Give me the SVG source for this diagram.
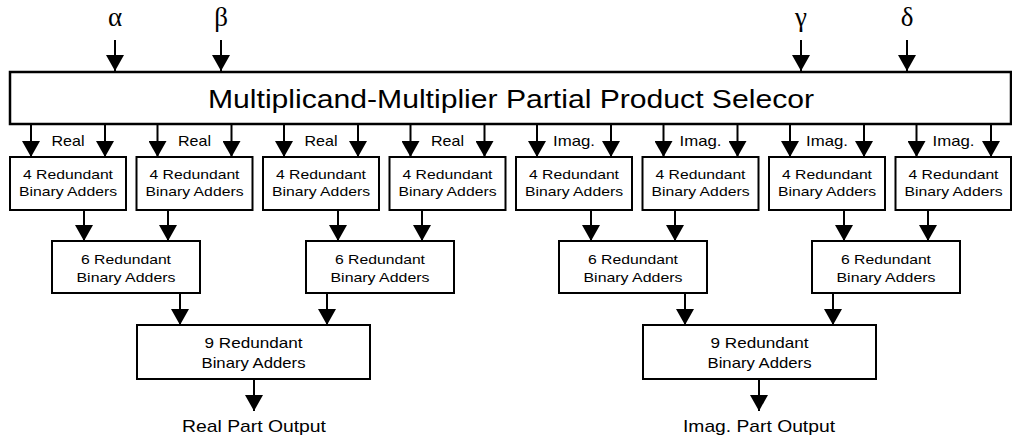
<svg xmlns="http://www.w3.org/2000/svg" width="1012" height="441" viewBox="0 0 1012 441">
<style>
.box{fill:#fff;stroke:#000;stroke-width:2}
.main{fill:#fff;stroke:#000;stroke-width:2.5}
.t{font-family:"Liberation Sans",Arial,Helvetica,sans-serif;fill:#000;text-anchor:middle}
.g{font-family:"Liberation Serif","Times New Roman",serif;font-size:27px;fill:#000;text-anchor:middle}
.c line{stroke:#000;stroke-width:2;marker-end:url(#ah)}
.s{font-size:13.5px}
.l{font-size:14.5px}
.b{font-size:15px}
.o{font-size:17px}
</style>
<defs>
<marker id="ah" viewBox="0 0 16 18" refX="16" refY="9" markerWidth="16" markerHeight="18" markerUnits="userSpaceOnUse" orient="auto">
<path d="M0,0 L16,9 L0,18 Z" fill="#000"/>
</marker>
</defs>

<g id="inputs">
<text class="g" x="115" y="26">α</text>
<text class="g" x="221" y="26">β</text>
<text class="g" x="801" y="26">γ</text>
<text class="g" x="907" y="26">δ</text>
</g>

<g id="selector">
<rect class="main" x="10" y="72" width="1001" height="52"/>
<text class="t" x="511" y="108" font-size="25" textLength="606" lengthAdjust="spacingAndGlyphs">Multiplicand-Multiplier Partial Product Selecor</text>
</g>

<g id="labels">
<text class="t l" x="68" y="146" textLength="33" lengthAdjust="spacingAndGlyphs">Real</text>
<text class="t l" x="194.5" y="146" textLength="33" lengthAdjust="spacingAndGlyphs">Real</text>
<text class="t l" x="321" y="146" textLength="33" lengthAdjust="spacingAndGlyphs">Real</text>
<text class="t l" x="447.5" y="146" textLength="33" lengthAdjust="spacingAndGlyphs">Real</text>
<text class="t l" x="574" y="146" textLength="42" lengthAdjust="spacingAndGlyphs">Imag.</text>
<text class="t l" x="700.5" y="146" textLength="42" lengthAdjust="spacingAndGlyphs">Imag.</text>
<text class="t l" x="827" y="146" textLength="42" lengthAdjust="spacingAndGlyphs">Imag.</text>
<text class="t l" x="953.5" y="146" textLength="42" lengthAdjust="spacingAndGlyphs">Imag.</text>
</g>

<g id="rba4-1"><rect class="box" x="10" y="157" width="116" height="53"/>
<text class="t s" x="68" y="179" textLength="90" lengthAdjust="spacingAndGlyphs">4 Redundant</text>
<text class="t s" x="68" y="196" textLength="98" lengthAdjust="spacingAndGlyphs">Binary Adders</text></g>
<g id="rba4-2"><rect class="box" x="136.5" y="157" width="116" height="53"/>
<text class="t s" x="194.5" y="179" textLength="90" lengthAdjust="spacingAndGlyphs">4 Redundant</text>
<text class="t s" x="194.5" y="196" textLength="98" lengthAdjust="spacingAndGlyphs">Binary Adders</text></g>
<g id="rba4-3"><rect class="box" x="263" y="157" width="116" height="53"/>
<text class="t s" x="321" y="179" textLength="90" lengthAdjust="spacingAndGlyphs">4 Redundant</text>
<text class="t s" x="321" y="196" textLength="98" lengthAdjust="spacingAndGlyphs">Binary Adders</text></g>
<g id="rba4-4"><rect class="box" x="389.5" y="157" width="116" height="53"/>
<text class="t s" x="447.5" y="179" textLength="90" lengthAdjust="spacingAndGlyphs">4 Redundant</text>
<text class="t s" x="447.5" y="196" textLength="98" lengthAdjust="spacingAndGlyphs">Binary Adders</text></g>
<g id="rba4-5"><rect class="box" x="516" y="157" width="116" height="53"/>
<text class="t s" x="574" y="179" textLength="90" lengthAdjust="spacingAndGlyphs">4 Redundant</text>
<text class="t s" x="574" y="196" textLength="98" lengthAdjust="spacingAndGlyphs">Binary Adders</text></g>
<g id="rba4-6"><rect class="box" x="642.5" y="157" width="116" height="53"/>
<text class="t s" x="700.5" y="179" textLength="90" lengthAdjust="spacingAndGlyphs">4 Redundant</text>
<text class="t s" x="700.5" y="196" textLength="98" lengthAdjust="spacingAndGlyphs">Binary Adders</text></g>
<g id="rba4-7"><rect class="box" x="769" y="157" width="116" height="53"/>
<text class="t s" x="827" y="179" textLength="90" lengthAdjust="spacingAndGlyphs">4 Redundant</text>
<text class="t s" x="827" y="196" textLength="98" lengthAdjust="spacingAndGlyphs">Binary Adders</text></g>
<g id="rba4-8"><rect class="box" x="895.5" y="157" width="115.5" height="53"/>
<text class="t s" x="953.5" y="179" textLength="90" lengthAdjust="spacingAndGlyphs">4 Redundant</text>
<text class="t s" x="953.5" y="196" textLength="98" lengthAdjust="spacingAndGlyphs">Binary Adders</text></g>

<g id="rba6-1"><rect class="box" x="52" y="241" width="148" height="52"/>
<text class="t s" x="126" y="264" textLength="90" lengthAdjust="spacingAndGlyphs">6 Redundant</text>
<text class="t s" x="126" y="282" textLength="99" lengthAdjust="spacingAndGlyphs">Binary Adders</text></g>
<g id="rba6-2"><rect class="box" x="306" y="241" width="148" height="52"/>
<text class="t s" x="380" y="264" textLength="90" lengthAdjust="spacingAndGlyphs">6 Redundant</text>
<text class="t s" x="380" y="282" textLength="99" lengthAdjust="spacingAndGlyphs">Binary Adders</text></g>
<g id="rba6-3"><rect class="box" x="559" y="241" width="148" height="52"/>
<text class="t s" x="633" y="264" textLength="90" lengthAdjust="spacingAndGlyphs">6 Redundant</text>
<text class="t s" x="633" y="282" textLength="99" lengthAdjust="spacingAndGlyphs">Binary Adders</text></g>
<g id="rba6-4"><rect class="box" x="812" y="241" width="148" height="52"/>
<text class="t s" x="886" y="264" textLength="90" lengthAdjust="spacingAndGlyphs">6 Redundant</text>
<text class="t s" x="886" y="282" textLength="99" lengthAdjust="spacingAndGlyphs">Binary Adders</text></g>

<g id="rba9-real"><rect class="box" x="137" y="325" width="233" height="54"/>
<text class="t b" x="253.5" y="348" textLength="98" lengthAdjust="spacingAndGlyphs">9 Redundant</text>
<text class="t b" x="253.5" y="368" textLength="104" lengthAdjust="spacingAndGlyphs">Binary Adders</text></g>
<g id="rba9-imag"><rect class="box" x="643" y="325" width="233" height="54"/>
<text class="t b" x="759.5" y="348" textLength="98" lengthAdjust="spacingAndGlyphs">9 Redundant</text>
<text class="t b" x="759.5" y="368" textLength="104" lengthAdjust="spacingAndGlyphs">Binary Adders</text></g>

<g id="outputs">
<text class="t o" x="254" y="432" textLength="144" lengthAdjust="spacingAndGlyphs">Real Part Output</text>
<text class="t o" x="759" y="432" textLength="152" lengthAdjust="spacingAndGlyphs">Imag. Part Output</text>
</g>

<g id="connectors" class="c">
<line x1="115" y1="40" x2="115" y2="71"/>
<line x1="221" y1="40" x2="221" y2="71"/>
<line x1="801" y1="40" x2="801" y2="71"/>
<line x1="907" y1="40" x2="907" y2="71"/>

<line x1="31" y1="125" x2="31" y2="157"/>
<line x1="105" y1="125" x2="105" y2="157"/>
<line x1="157.5" y1="125" x2="157.5" y2="157"/>
<line x1="231.5" y1="125" x2="231.5" y2="157"/>
<line x1="284" y1="125" x2="284" y2="157"/>
<line x1="358" y1="125" x2="358" y2="157"/>
<line x1="410.5" y1="125" x2="410.5" y2="157"/>
<line x1="484.5" y1="125" x2="484.5" y2="157"/>
<line x1="537" y1="125" x2="537" y2="157"/>
<line x1="611" y1="125" x2="611" y2="157"/>
<line x1="663.5" y1="125" x2="663.5" y2="157"/>
<line x1="737.5" y1="125" x2="737.5" y2="157"/>
<line x1="790" y1="125" x2="790" y2="157"/>
<line x1="864" y1="125" x2="864" y2="157"/>
<line x1="916.5" y1="125" x2="916.5" y2="157"/>
<line x1="991" y1="125" x2="991" y2="157"/>

<line x1="84" y1="211" x2="84" y2="241"/>
<line x1="168" y1="211" x2="168" y2="241"/>
<line x1="338" y1="211" x2="338" y2="241"/>
<line x1="422" y1="211" x2="422" y2="241"/>
<line x1="591" y1="211" x2="591" y2="241"/>
<line x1="675" y1="211" x2="675" y2="241"/>
<line x1="844" y1="211" x2="844" y2="241"/>
<line x1="928" y1="211" x2="928" y2="241"/>

<line x1="180" y1="294" x2="180" y2="325"/>
<line x1="327" y1="294" x2="327" y2="325"/>
<line x1="685" y1="294" x2="685" y2="325"/>
<line x1="833" y1="294" x2="833" y2="325"/>

<line x1="254" y1="380" x2="254" y2="411"/>
<line x1="759" y1="380" x2="759" y2="411"/>
</g>
</svg>
